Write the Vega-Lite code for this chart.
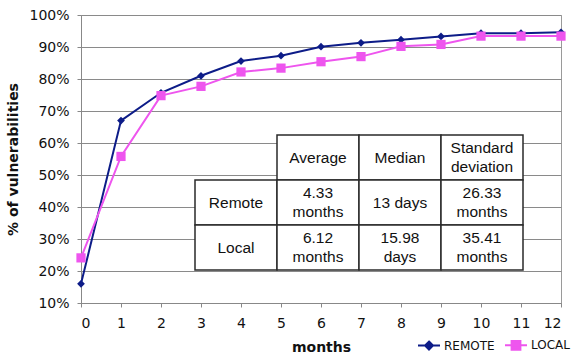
{
  "$schema": "https://vega.github.io/schema/vega-lite/v6.json",
  "autosize": {"type": "none"},
  "width": 480,
  "height": 288,
  "padding": {"left": 81, "top": 15, "right": 10, "bottom": 50},
  "background": "white",
  "config": {
    "view": {"stroke": "#9a9a9a", "strokeWidth": 1},
    "font": "DejaVu Sans"
  },
  "datasets": {
    "series": [
      {"month": 0, "pct": 16.0, "type": "REMOTE"},
      {"month": 1, "pct": 67.0, "type": "REMOTE"},
      {"month": 2, "pct": 75.7, "type": "REMOTE"},
      {"month": 3, "pct": 81.0, "type": "REMOTE"},
      {"month": 4, "pct": 85.6, "type": "REMOTE"},
      {"month": 5, "pct": 87.3, "type": "REMOTE"},
      {"month": 6, "pct": 90.1, "type": "REMOTE"},
      {"month": 7, "pct": 91.3, "type": "REMOTE"},
      {"month": 8, "pct": 92.3, "type": "REMOTE"},
      {"month": 9, "pct": 93.3, "type": "REMOTE"},
      {"month": 10, "pct": 94.3, "type": "REMOTE"},
      {"month": 11, "pct": 94.3, "type": "REMOTE"},
      {"month": 12, "pct": 94.6, "type": "REMOTE"},
      {"month": 0, "pct": 24.1, "type": "LOCAL"},
      {"month": 1, "pct": 55.8, "type": "LOCAL"},
      {"month": 2, "pct": 74.8, "type": "LOCAL"},
      {"month": 3, "pct": 77.7, "type": "LOCAL"},
      {"month": 4, "pct": 82.2, "type": "LOCAL"},
      {"month": 5, "pct": 83.4, "type": "LOCAL"},
      {"month": 6, "pct": 85.4, "type": "LOCAL"},
      {"month": 7, "pct": 87.0, "type": "LOCAL"},
      {"month": 8, "pct": 90.2, "type": "LOCAL"},
      {"month": 9, "pct": 90.8, "type": "LOCAL"},
      {"month": 10, "pct": 93.4, "type": "LOCAL"},
      {"month": 11, "pct": 93.4, "type": "LOCAL"},
      {"month": 12, "pct": 93.4, "type": "LOCAL"}
    ],
    "table": [
      {"col": "c1", "row": "r0", "label": "Average"},
      {"col": "c2", "row": "r0", "label": "Median"},
      {"col": "c3", "row": "r0", "label": "Standard\ndeviation"},
      {"col": "c0", "row": "r1", "label": "Remote"},
      {"col": "c1", "row": "r1", "label": "4.33\nmonths"},
      {"col": "c2", "row": "r1", "label": "13 days"},
      {"col": "c3", "row": "r1", "label": "26.33\nmonths"},
      {"col": "c0", "row": "r2", "label": "Local"},
      {"col": "c1", "row": "r2", "label": "6.12\nmonths"},
      {"col": "c2", "row": "r2", "label": "15.98\ndays"},
      {"col": "c3", "row": "r2", "label": "35.41\nmonths"}
    ]
  },
  "layer": [
    {
      "data": {"name": "table"},
      "encoding": {
        "x": {"field": "col", "type": "nominal", "axis": null,
              "scale": {"domain": ["c0", "c1", "c2", "c3"], "range": [114, 442], "paddingInner": 0, "paddingOuter": 0}},
        "y": {"field": "row", "type": "nominal", "axis": null,
              "scale": {"domain": ["r0", "r1", "r2"], "range": [120, 255], "paddingInner": 0, "paddingOuter": 0}}
      },
      "layer": [
        {"mark": {"type": "rect", "fill": "white", "stroke": "#2a2a2a", "strokeWidth": 1.5}},
        {"transform": [{"filter": "indexof(datum.label, '\\n') < 0"}],
         "mark": {"type": "text", "font": "Liberation Sans", "fontSize": 15.5, "color": "#111", "baseline": "middle", "align": "center"},
         "encoding": {"text": {"field": "label"}}},
        {"transform": [{"filter": "indexof(datum.label, '\\n') >= 0"}],
         "mark": {"type": "text", "font": "Liberation Sans", "fontSize": 15.5, "color": "#111", "lineBreak": "\n", "lineHeight": 19, "baseline": "middle", "align": "center", "dy": -9.5},
         "encoding": {"text": {"field": "label"}}}
      ]
    },
    {
      "data": {"name": "series"},
      "encoding": {
        "x": {"field": "month", "type": "quantitative",
              "scale": {"domain": [0, 12], "nice": false},
              "axis": {"orient": "bottom", "title": "months", "values": [0,1,2,3,4,5,6,7,8,9,10,11,12], "grid": false,
                       "domainColor": "#888", "tickColor": "#888", "tickSize": 4,
                       "labelFont": "DejaVu Sans", "labelFontSize": 14, "labelColor": "#111", "labelPadding": 9,
                       "titleFont": "DejaVu Sans", "titleFontSize": 14, "titleFontWeight": "bold", "titleColor": "#111", "titlePadding": 10}},
        "y": {"field": "pct", "type": "quantitative",
              "scale": {"domain": [10, 100], "nice": false, "zero": false},
              "axis": {"orient": "left", "title": "% of vulnerabilities", "values": [10,20,30,40,50,60,70,80,90,100],
                       "labelExpr": "datum.value + '%'", "grid": true, "gridColor": "#8a8a8a", "gridWidth": 1,
                       "domainColor": "#888", "tickColor": "#888", "tickSize": 4,
                       "labelFont": "DejaVu Sans", "labelFontSize": 14, "labelColor": "#111", "labelPadding": 8,
                       "titleFont": "DejaVu Sans", "titleFontSize": 14, "titleFontWeight": "bold", "titleColor": "#111", "titlePadding": 8}},
        "color": {"field": "type", "type": "nominal",
                  "scale": {"domain": ["REMOTE", "LOCAL"], "range": ["#0d1c88", "#ee55ee"]},
                  "legend": {"title": null, "orient": "none", "direction": "horizontal", "columns": 2,
                             "legendX": 336, "legendY": 318,
                             "labelFont": "DejaVu Sans", "labelFontSize": 12, "labelColor": "#111", "labelOffset": 3,
                             "columnPadding": 6, "symbolSize": 484, "symbolStrokeWidth": 2,
                             "encode": {"symbols": {"update": {
                               "shape": {"signal": "datum.value == 'REMOTE' ? 'M-1,0L1,0M0,-0.36L0.36,0L0,0.36L-0.36,0Z' : 'M-1,0L1,0M-0.4,-0.4L0.4,-0.4L0.4,0.4L-0.4,0.4Z'"},
                               "size": {"value": 484},
                               "fill": {"scale": "color", "field": "value"},
                               "stroke": {"scale": "color", "field": "value"},
                               "strokeWidth": {"value": 2},
                               "opacity": {"value": 1}
                             }}}}}
      },
      "layer": [
        {"mark": {"type": "line", "strokeWidth": 2}},
        {"transform": [{"filter": "datum.type == 'REMOTE'"}],
         "mark": {"type": "point", "filled": true, "opacity": 1, "shape": "diamond", "size": 60}},
        {"transform": [{"filter": "datum.type == 'LOCAL'"}],
         "mark": {"type": "point", "filled": true, "opacity": 1, "shape": "square", "size": 85}}
      ]
    }
  ],
  "resolve": {"scale": {"x": "independent", "y": "independent"}, "axis": {"x": "independent", "y": "independent"}}
}
